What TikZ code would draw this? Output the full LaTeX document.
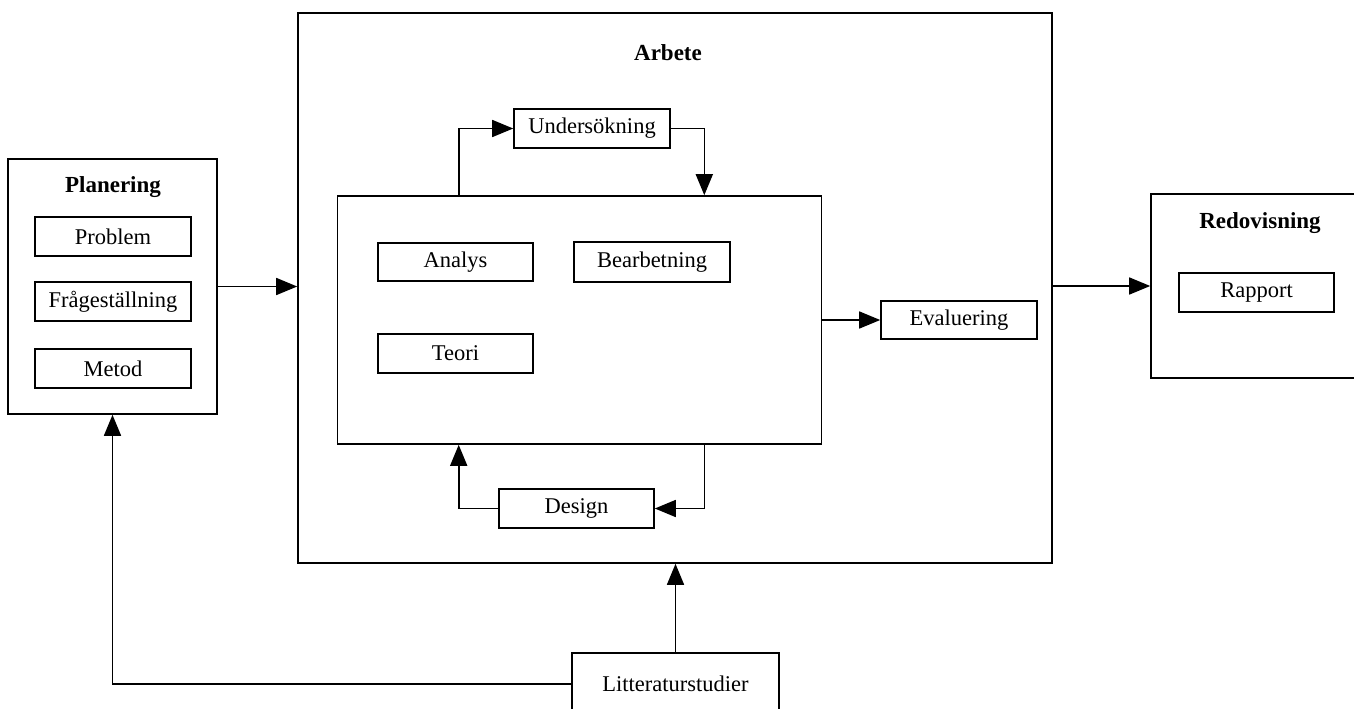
\documentclass[tikz,border=0pt]{standalone}
\usepackage{fontspec}
\setmainfont{Liberation Serif}
\usetikzlibrary{arrows.meta}
\begin{document}
\begin{tikzpicture}[x=1pt,y=-1pt,
  font=\fontsize{22.5pt}{26pt}\selectfont,
  box/.style={draw,line width=1.6pt,inner sep=0pt,rectangle},
  ttl/.style={font=\fontsize{23pt}{26pt}\selectfont\bfseries,inner sep=0pt},
  arr/.style={line width=1.6pt,-{Triangle[length=21pt,width=17pt]}}]
\useasboundingbox (0,0) rectangle (1354,709);
\fill[white] (0,0) rectangle (1354,709);
% Planering
\node[box,minimum width=209pt,minimum height=255pt] (plan) at (112.5,286.5) {};
\node[ttl] (plant) at (113,187) {Planering};
\node[box,minimum width=156pt,minimum height=39pt] (prob) at (113,236.5) {Problem};
\node[box,minimum width=156pt,minimum height=39pt] (frag) at (113,301.5) {Frågeställning};
\node[box,minimum width=156pt,minimum height=39pt] (met) at (113,368.5) {Metod};
% Arbete
\node[box,minimum width=754pt,minimum height=550pt] (arb) at (675,288) {};
\node[ttl] (arbt) at (668,53) {Arbete};
\node[box,minimum width=484pt,minimum height=248pt] (inner) at (579.5,320) {};
\node[box,minimum width=155pt,minimum height=38pt] (ana) at (455.5,262) {Analys};
\node[box,minimum width=156pt,minimum height=40pt] (bea) at (652,262) {Bearbetning};
\node[box,minimum width=155pt,minimum height=39pt] (teo) at (455.5,353.5) {Teori};
\node[box,minimum width=156pt,minimum height=39pt] (und) at (592,128.5) {Undersökning};
\node[box,minimum width=155pt,minimum height=39pt] (des) at (576.5,508.5) {Design};
\node[box,minimum width=156pt,minimum height=38pt] (eva) at (959,320) {Evaluering};
% Redovisning
\node[box,minimum width=220pt,minimum height=184pt] (red) at (1261,286) {};
\node[ttl] (redt) at (1260,223) {Redovisning};
\node[box,minimum width=155pt,minimum height=39pt] (rap) at (1256.5,292.5) {Rapport};
% Litteraturstudier
\node[box,minimum width=207pt,minimum height=62pt] (lit) at (675.5,684) {Litteraturstudier};
% connectors
\draw[arr] (plan.east) -- (plan.east -| arb.west);
\draw[arr] (arb.east |- red.west) -- (red.west);
\draw[arr] (inner.east) -- (inner.east -| eva.west);
\draw[arr] ([xshift=122pt]inner.north west) |- (und.west);
\draw[arr] (und.east) -| ([xshift=-118pt]inner.north east);
\draw[arr] ([xshift=-118pt]inner.south east) |- (des.east);
\draw[arr] (des.west) -| ([xshift=122pt]inner.south west);
\draw[arr] (lit.north) -- (lit.north |- arb.south);
\draw[arr] (lit.west) -| (plan.south);
\end{tikzpicture}
\end{document}
